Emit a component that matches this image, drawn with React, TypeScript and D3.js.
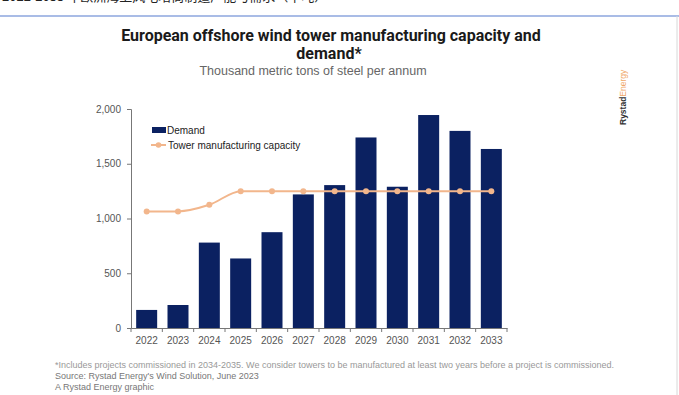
import React, { useEffect, useRef } from "react";
import * as d3 from "d3";

const years = ["2022", "2023", "2024", "2025", "2026", "2027", "2028", "2029", "2030", "2031", "2032", "2033"];
const demand = [165, 210, 780, 635, 875, 1220, 1305, 1740, 1290, 1945, 1800, 1635];
const capacity = [1065, 1065, 1125, 1250, 1250, 1250, 1250, 1250, 1250, 1250, 1250, 1250];
const yTicks = [0, 500, 1000, 1500, 2000];

const NAVY = "#0b2161";
const PEACH = "#f2b68c";
const FONT = "'Liberation Sans', Arial, sans-serif";

const App: React.FC = () => {
  const svgRef = useRef<SVGSVGElement>(null);

  useEffect(() => {
    if (!svgRef.current) return;
    const width = 679;
    const height = 395;
    const svg = d3.select(svgRef.current).html("").attr("viewBox", `0 0 ${width} ${height}`);

    svg.append("rect").attr("width", width).attr("height", height).attr("fill", "#fff");

    // clipped header from the source page
    svg
      .append("text")
      .attr("x", 2)
      .attr("y", 1)
      .attr("font-family", "'Noto Sans CJK SC', sans-serif")
      .attr("font-size", 13)
      .attr("fill", "#222")
      .text("2022-2033 年欧洲海上风电塔筒制造产能与需求（千吨）");
    svg.append("line").attr("x1", 0).attr("x2", width).attr("y1", 16).attr("y2", 16)
      .attr("stroke", "#a9bce6").attr("stroke-width", 2);
    svg.append("line").attr("x1", 677).attr("x2", 677).attr("y1", 16).attr("y2", height)
      .attr("stroke", "#d8d8d8").attr("stroke-width", 1);

    // titles
    const title = svg.append("text").attr("text-anchor", "middle").attr("font-family", "Roboto, sans-serif")
      .attr("font-weight", "bold").attr("font-size", 16).attr("fill", "#1a1a1a");
    title.append("tspan").attr("x", 331).attr("y", 41).text("European offshore wind tower manufacturing capacity and");
    title.append("tspan").attr("x", 329).attr("y", 59).text("demand*");
    svg.append("text").attr("x", 313).attr("y", 75).attr("text-anchor", "middle")
      .attr("font-family", FONT).attr("font-size", 12.5).attr("fill", "#666")
      .text("Thousand metric tons of steel per annum");

    // chart
    const margin = { left: 131, right: 172, top: 109, bottom: 67 };
    const x = d3.scaleBand<string>().domain(years).range([margin.left, width - margin.right]).paddingInner(0.33).paddingOuter(0.165);
    const y = d3.scaleLinear().domain([0, 2000]).range([height - margin.bottom, margin.top]);

    const yAxis = svg.append("g").attr("transform", `translate(${margin.left},0)`)
      .call(d3.axisLeft(y).tickValues(yTicks).tickSize(4).tickPadding(6).tickFormat(d3.format(",")));
    yAxis.selectAll("text").attr("font-family", FONT).attr("font-size", 10).attr("fill", "#555");
    yAxis.selectAll("line, path").attr("stroke", "#777");

    const bw = (width - margin.right - margin.left) / years.length;
    svg.selectAll("rect.bar").data(demand).join("rect").attr("class", "bar")
      .attr("x", (_d, i) => x(years[i])!)
      .attr("width", x.bandwidth())
      .attr("y", (d) => y(d))
      .attr("height", (d) => y(0) - y(d))
      .attr("fill", NAVY);

    const xAxis = svg.append("g").attr("transform", `translate(0,${y(0)})`)
      .call(d3.axisBottom(x).tickSize(0).tickPadding(9));
    xAxis.select("path").attr("stroke", "#777");
    xAxis.selectAll("text").attr("font-family", FONT).attr("font-size", 10).attr("fill", "#555");
    // ticks between categories
    xAxis.selectAll("line.sep").data(d3.range(years.length + 1)).join("line").attr("class", "sep")
      .attr("x1", (i) => margin.left + i * bw).attr("x2", (i) => margin.left + i * bw)
      .attr("y1", 0).attr("y2", 4).attr("stroke", "#777");

    const cx = (i: number) => x(years[i])! + x.bandwidth() / 2;
    const line = d3.line<number>().x((_d, i) => cx(i)).y((d) => y(d)).curve(d3.curveMonotoneX);
    svg.append("path").datum(capacity).attr("d", line).attr("fill", "none")
      .attr("stroke", PEACH).attr("stroke-width", 2);
    svg.selectAll("circle.cap").data(capacity).join("circle").attr("class", "cap")
      .attr("cx", (_d, i) => cx(i)).attr("cy", (d) => y(d)).attr("r", 3).attr("fill", PEACH);

    // legend
    const lg = svg.append("g").attr("font-family", FONT).attr("font-size", 10).attr("fill", "#222");
    lg.append("rect").attr("x", 152).attr("y", 127).attr("width", 14).attr("height", 6).attr("fill", NAVY);
    lg.append("text").attr("x", 167).attr("y", 134).text("Demand");
    lg.append("line").attr("x1", 151).attr("x2", 166).attr("y1", 145).attr("y2", 145).attr("stroke", PEACH).attr("stroke-width", 2);
    lg.append("circle").attr("cx", 158.5).attr("cy", 145).attr("r", 2.8).attr("fill", PEACH);
    lg.append("text").attr("x", 168).attr("y", 149).text("Tower manufacturing capacity");

    // footnotes
    const notes = [
      "*Includes projects commissioned in 2034-2035. We consider towers to be manufactured at least two years before a project is commissioned.",
      "Source: Rystad Energy's Wind Solution, June 2023",
      "A Rystad Energy graphic",
    ];
    svg.selectAll("text.note").data(notes).join("text").attr("class", "note")
      .attr("x", 55).attr("y", (_d, i) => 368 + i * 11)
      .attr("font-family", FONT).attr("font-size", 9).attr("fill", (_d, i) => (i === 0 ? "#999" : "#777"))
      .text((d) => d);

    // logo
    const logo = svg.append("text").attr("transform", "translate(626,125) rotate(-90)")
      .attr("font-family", FONT).attr("font-size", 8.5);
    logo.append("tspan").attr("font-weight", "bold").attr("fill", "#333").text("Rystad");
    logo.append("tspan").attr("fill", "#f0a868").text("Energy");
  }, []);

  return (
    <svg
      ref={svgRef}
      width={679}
      height={395}
      style={{ position: "absolute", left: 0, top: 0 }}
    />
  );
};

export default App;
